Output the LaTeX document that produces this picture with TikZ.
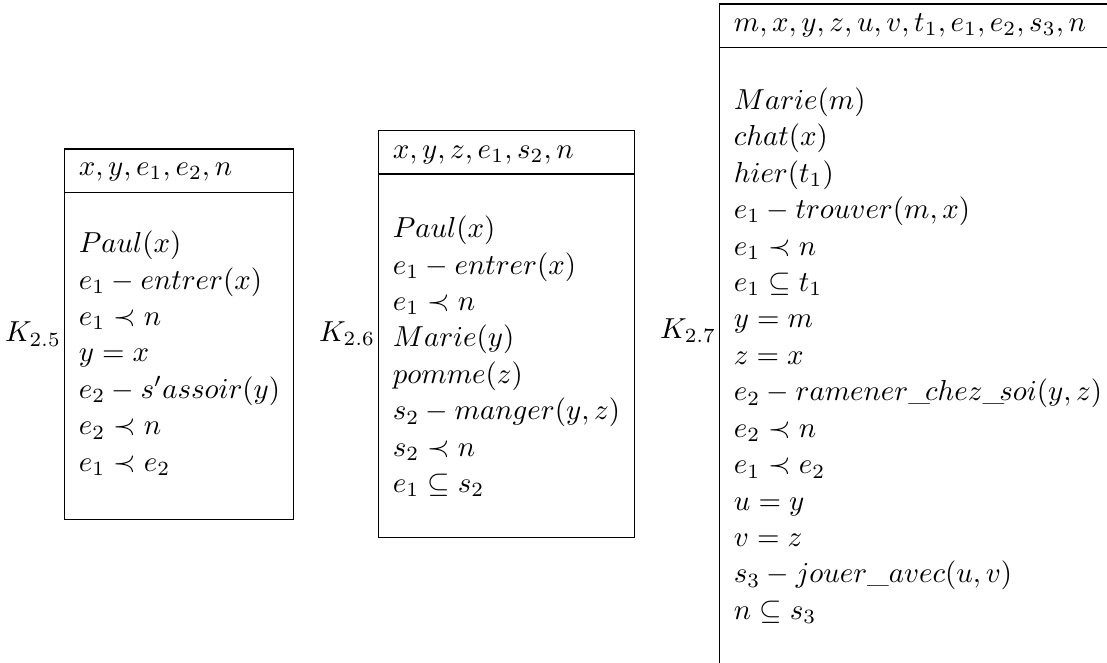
\documentclass[tikz,border=0pt]{standalone}
\usepackage{amsmath,amssymb}
\usepackage{tikz}
\usetikzlibrary{positioning}

\tikzset{
  drsline/.style={anchor=base west, inner sep=0pt, scale=0.946},
  drslabel/.style={anchor=base east, inner sep=0pt, scale=0.946},
}

\begin{document}
\begin{tikzpicture}
\useasboundingbox (0,0) rectangle (12.73,-7.613);
\clip (0,0) rectangle (12.73,-7.613);

% K_{2.5}
\begin{scope}[xshift=0.739cm, yshift=-1.714cm]
\draw (0,0) rectangle (2.634,-4.259);
\draw (0,-0.498) -- (2.634,-0.498);
\node[drsline] (k25-head) at (0.161,-0.305) {$x, y, e_1, e_2, n$};
\foreach \cond [count=\i] in {{$Paul(x)$}, {$e_1 - entrer(x)$}, {$e_1 \prec n$}, {$y = x$},
    {$e_2 - s'assoir(y)$}, {$e_2 \prec n$}, {$e_1 \prec e_2$}} {
  \node[drsline] (k25-\i) at (0.161,{-1.191-(\i-1)*0.419}) {\cond};
}
\node[drslabel] (k25) at (-0.03,-2.216) {$K_{2.5}$};
\end{scope}

% K_{2.6}
\begin{scope}[xshift=4.350cm, yshift=-1.503cm]
\draw (0,0) rectangle (2.944,-4.676);
\draw (0,-0.498) -- (2.944,-0.498);
\node[drsline] (k26-head) at (0.161,-0.314) {$x, y, z, e_1, s_2, n$};
\foreach \cond [count=\i] in {{$Paul(x)$}, {$e_1 - entrer(x)$}, {$e_1 \prec n$}, {$Marie(y)$},
    {$pomme(z)$}, {$s_2 - manger(y, z)$}, {$s_2 \prec n$}, {$e_1 \subseteq s_2$}} {
  \node[drsline] (k26-\i) at (0.161,{-1.229-(\i-1)*0.419}) {\cond};
}
\node[drslabel] (k26) at (-0.03,-2.425) {$K_{2.6}$};
\end{scope}

% K_{2.7}
\begin{scope}[xshift=8.272cm, yshift=-0.046cm]
\draw (0,0) rectangle (5,-8);
\draw (0,-0.503) -- (5,-0.503);
\node[drsline] (k27-head) at (0.161,-0.316) {$m, x, y, z, u, v, t_1, e_1, e_2, s_3, n$};
\foreach \cond [count=\i] in {{$Marie(m)$}, {$chat(x)$}, {$hier(t_1)$}, {$e_1 - trouver(m, x)$},
    {$e_1 \prec n$}, {$e_1 \subseteq t_1$}, {$y = m$}, {$z = x$},
    {$e_2 - ramener\_\!chez\_\!soi(y, z)$}, {$e_2 \prec n$}, {$e_1 \prec e_2$},
    {$u = y$}, {$v = z$}, {$s_3 - jouer\_avec(u, v)$}, {$n \subseteq s_3$}} {
  \node[drsline] (k27-\i) at (0.161,{-1.211-(\i-1)*0.419}) {\cond};
}
\node[drslabel] (k27) at (-0.03,-3.841) {$K_{2.7}$};
\end{scope}
\end{tikzpicture}
\end{document}
